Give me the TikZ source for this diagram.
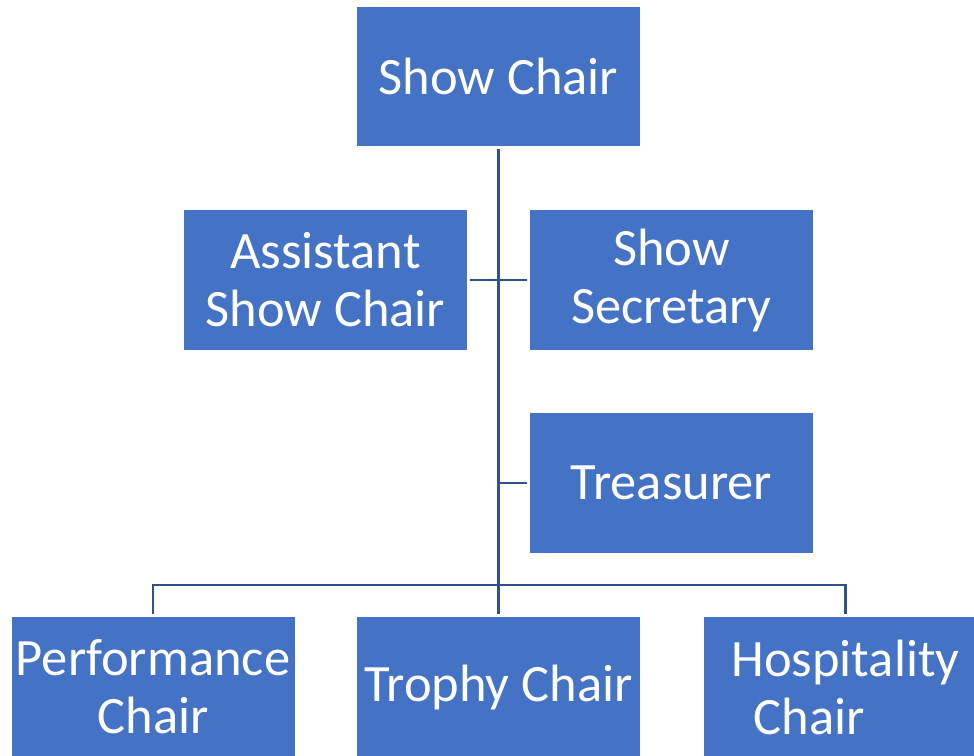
\documentclass[tikz,border=0pt]{standalone}
\usepackage{fontspec}
\setmainfont{Carlito}
\definecolor{boxblue}{RGB}{68,114,196}
\definecolor{linkblue}{RGB}{47,82,143}
\begin{document}
\begin{tikzpicture}[x=1pt,y=-1pt,
  role/.style={fill=boxblue, draw=none, text=white, inner sep=0pt,
    minimum width=283pt, minimum height=140pt, align=center,
    font=\fontsize{52.5}{58}\selectfont},
  link/.style={draw=linkblue, line width=2.2pt}]
\useasboundingbox (0,0) rectangle (974,755);
\clip (0,0) rectangle (974,755);

% boxes of the chart
\node[role, minimum height=139pt] (chair) at (498.5,76.5) {Show Chair};
\node[role] (asst) at (325.5,280) {Assistant\\Show Chair};
\node[role] (sec) at (671.5,280) {Show\\Secretary};
\node[role] (treas) at (671.5,483) {Treasurer};
\node[role] (perf) at (153,687) {Performance\\Chair};
\node[role] (troph) at (498.5,687) {Trophy Chair};
\node[role, align=left] (hosp) at (845.5,687) {Hospitality\\\hspace*{22pt}Chair};

% bus line above the bottom row
\coordinate (busL) at (perf.north |- 0,585);
\coordinate (busR) at (hosp.north |- 0,585);

% trunk from the show chair down to the trophy chair
\draw[link] ([yshift=-3pt]chair.south) -- ([yshift=3pt]troph.north);
% assistant / secretary cross bar
\draw[link] ([xshift=3pt]asst.east) -- ([xshift=-3pt]sec.west);
% treasurer stub
\draw[link] (chair.south |- treas.west) -- ([xshift=-3pt]treas.west);
% bottom row
\draw[link] ([yshift=3pt]perf.north) -- (busL) -- (busR) -- ([yshift=3pt]hosp.north);
\end{tikzpicture}
\end{document}
